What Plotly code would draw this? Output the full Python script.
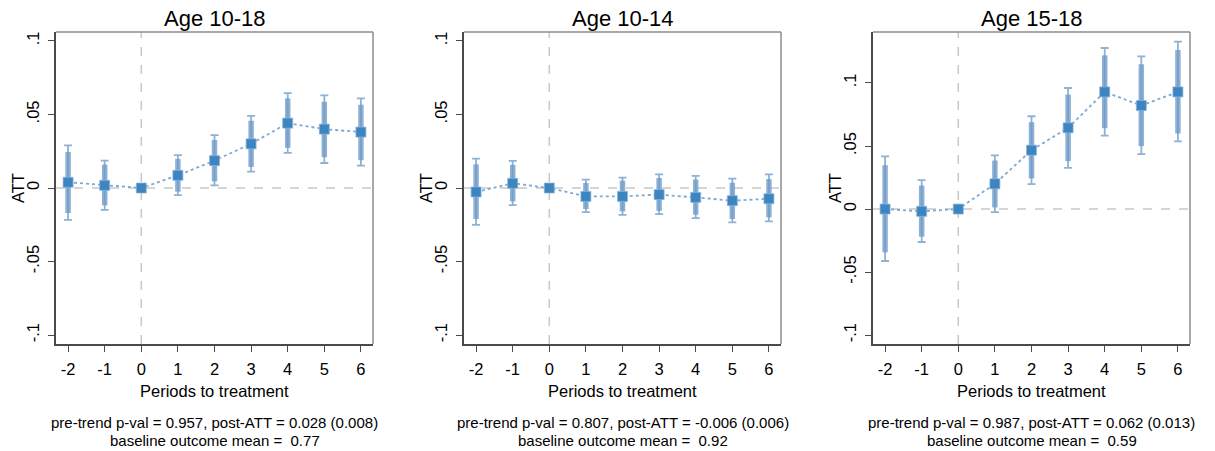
import plotly.graph_objects as go

W, H = 1215, 451
periods = [-2, -1, 0, 1, 2, 3, 4, 5, 6]

titles = ["Age 10-18", "Age 10-14", "Age 15-18"]

att_1018 = [0.0039, 0.0018, 0.0, 0.0086, 0.0186, 0.0300, 0.0441, 0.0400, 0.0380]
hi95_1018 = [0.0290, 0.0186, 0.0, 0.0223, 0.0359, 0.0490, 0.0645, 0.0630, 0.0609]
lo95_1018 = [-0.0216, -0.0148, 0.0, -0.0048, 0.0018, 0.0111, 0.0239, 0.0170, 0.0152]
hi90_1018 = [0.0245, 0.0159, 0.0, 0.0198, 0.0327, 0.0457, 0.0609, 0.0586, 0.0566]
lo90_1018 = [-0.0170, -0.0118, 0.0, -0.0025, 0.0045, 0.0143, 0.0273, 0.0209, 0.0189]

att_1014 = [-0.0027, 0.0032, 0.0, -0.0057, -0.0057, -0.0045, -0.0064, -0.0086, -0.0073]
hi95_1014 = [0.0200, 0.0184, 0.0, 0.0057, 0.0070, 0.0093, 0.0082, 0.0064, 0.0093]
lo95_1014 = [-0.0250, -0.0116, 0.0, -0.0164, -0.0182, -0.0177, -0.0205, -0.0234, -0.0227]
hi90_1014 = [0.0161, 0.0157, 0.0, 0.0034, 0.0050, 0.0068, 0.0057, 0.0036, 0.0061]
lo90_1014 = [-0.0211, -0.0091, 0.0, -0.0143, -0.0159, -0.0155, -0.0182, -0.0211, -0.0200]

att_1518 = [0.0000, -0.0018, 0.0, 0.0200, 0.0467, 0.0644, 0.0929, 0.0821, 0.0929]
hi95_1518 = [0.0417, 0.0230, 0.0, 0.0425, 0.0736, 0.0960, 0.1277, 0.1211, 0.1327]
lo95_1518 = [-0.0412, -0.0261, 0.0, -0.0024, 0.0198, 0.0327, 0.0583, 0.0435, 0.0536]
hi90_1518 = [0.0348, 0.0187, 0.0, 0.0385, 0.0689, 0.0908, 0.1219, 0.1148, 0.1261]
lo90_1518 = [-0.0343, -0.0219, 0.0, 0.0013, 0.0243, 0.0380, 0.0641, 0.0499, 0.0599]

notes_line1 = [
    "pre-trend p-val = 0.957, post-ATT = 0.028 (0.008)",
    "pre-trend p-val = 0.807, post-ATT = -0.006 (0.006)",
    "pre-trend p-val = 0.987, post-ATT = 0.062 (0.013)",
]
notes_line2 = [
    "baseline outcome mean =  0.77",
    "baseline outcome mean =  0.92",
    "baseline outcome mean =  0.59",
]

ytick_vals = [-0.1, -0.05, 0, 0.05, 0.1]
ytick_text = ["-.1", "-.05", "0", ".05", ".1"]
y_ranges = [[-0.106, 0.106], [-0.106, 0.106], [-0.107, 0.1404]]

panels = [
    (att_1018, hi95_1018, lo95_1018, hi90_1018, lo90_1018),
    (att_1014, hi95_1014, lo95_1014, hi90_1014, lo90_1014),
    (att_1518, hi95_1518, lo95_1518, hi90_1518, lo90_1518),
]

# pixel frames of plot areas
frames_px = [(56, 373), (464, 781), (873, 1190)]
top_px, bot_px = 32, 344

FONT = "Liberation Sans, Arial, sans-serif"
MARK = "#3d85c0"
BAR = "rgba(110,155,200,0.78)"
LINE = "#7fa8d2"
REF = "#c8c8c8"
AX = "#4a4a4a"

fig = go.Figure()
layout = dict(
    width=W, height=H,
    margin=dict(l=0, r=0, t=0, b=0),
    paper_bgcolor="white", plot_bgcolor="white",
    showlegend=False,
    font=dict(family=FONT, color="black"),
)
shapes = []
annotations = []

def ppx(y):
    return 1 - y / H

for i, (att, hi95, lo95, hi90, lo90) in enumerate(panels):
    n = i + 1
    xa = "x" if n == 1 else f"x{n}"
    ya = "y" if n == 1 else f"y{n}"
    xkey = "xaxis" if n == 1 else f"xaxis{n}"
    ykey = "yaxis" if n == 1 else f"yaxis{n}"
    x0, x1 = frames_px[i]
    dom_x = [x0 / W, x1 / W]
    dom_y = [ppx(bot_px), ppx(top_px)]

    # outer CI with caps
    fig.add_trace(go.Scatter(
        x=periods, y=att, mode="markers", marker=dict(size=1, opacity=0),
        error_y=dict(type="data", symmetric=False,
                     array=[h - a for h, a in zip(hi95, att)],
                     arrayminus=[a - l for a, l in zip(att, lo95)],
                     color=BAR, thickness=1.8, width=4),
        xaxis=xa, yaxis=ya, hoverinfo="skip"))
    # inner CI thick bar
    fig.add_trace(go.Scatter(
        x=periods, y=att, mode="markers", marker=dict(size=1, opacity=0),
        error_y=dict(type="data", symmetric=False,
                     array=[h - a for h, a in zip(hi90, att)],
                     arrayminus=[a - l for a, l in zip(att, lo90)],
                     color=BAR, thickness=5.5, width=0),
        xaxis=xa, yaxis=ya, hoverinfo="skip"))
    # connecting dotted line + square markers
    fig.add_trace(go.Scatter(
        x=periods, y=att, mode="lines+markers",
        line=dict(color=LINE, width=1.8, dash="dot"),
        marker=dict(symbol="square", size=10, color=MARK,
                    line=dict(color="rgba(140,180,220,0.9)", width=0.8)),
        xaxis=xa, yaxis=ya))

    layout[xkey] = dict(
        domain=dom_x, anchor=ya, range=[-2.33, 6.33],
        tickmode="array", tickvals=periods, ticktext=[str(p) for p in periods],
        ticks="outside", ticklen=6, tickwidth=1.3, tickcolor=AX,
        showline=True, linecolor=AX, linewidth=1.8, mirror=False,
        showgrid=False, zeroline=False,
        tickfont=dict(family=FONT, size=16.5, color="black"),
        ticklabelstandoff=3,
    )
    layout[ykey] = dict(
        domain=dom_y, anchor=xa, range=y_ranges[i],
        tickmode="array", tickvals=ytick_vals, ticktext=ytick_text,
        tickangle=-90,
        ticks="outside", ticklen=6, tickwidth=1.3, tickcolor=AX,
        showline=True, linecolor=AX, linewidth=1.8, mirror=False,
        showgrid=False, zeroline=False,
        tickfont=dict(family=FONT, size=16.5, color="black"),
        ticklabelstandoff=3,
    )

    # light box (top/right)
    shapes.append(dict(type="line", xref="paper", yref="paper",
                       x0=dom_x[0], x1=dom_x[1], y0=dom_y[1], y1=dom_y[1],
                       line=dict(color="#8c8c8c", width=1.5), layer="above"))
    shapes.append(dict(type="line", xref="paper", yref="paper",
                       x0=dom_x[1], x1=dom_x[1], y0=dom_y[0], y1=dom_y[1],
                       line=dict(color="#8c8c8c", width=1.5), layer="above"))
    # reference lines
    shapes.append(dict(type="line", xref=f"{xa} domain", yref=ya,
                       x0=0, x1=1, y0=0, y1=0,
                       line=dict(color=REF, width=1.5, dash="dash"), layer="below"))
    shapes.append(dict(type="line", xref=xa, yref=f"{ya} domain",
                       x0=0, x1=0, y0=0, y1=1,
                       line=dict(color=REF, width=1.5, dash="dash"), layer="below"))

    cx = (dom_x[0] + dom_x[1]) / 2
    annotations.append(dict(text=titles[i], xref="paper", yref="paper",
                            x=cx, y=ppx(18), xanchor="center", yanchor="middle",
                            showarrow=False, font=dict(family=FONT, size=22, color="black")))
    annotations.append(dict(text="Periods to treatment", xref="paper", yref="paper",
                            x=cx, y=ppx(391), xanchor="center", yanchor="middle",
                            showarrow=False, font=dict(family=FONT, size=16.5, color="black")))
    annotations.append(dict(text="ATT", xref="paper", yref="paper",
                            x=(x0 - 38) / W, y=(dom_y[0] + dom_y[1]) / 2,
                            xanchor="center", yanchor="middle", textangle=-90,
                            showarrow=False, font=dict(family=FONT, size=16.5, color="black")))
    annotations.append(dict(text=notes_line1[i], xref="paper", yref="paper",
                            x=cx, y=ppx(422), xanchor="center", yanchor="middle",
                            showarrow=False, font=dict(family=FONT, size=15, color="black")))
    annotations.append(dict(text=notes_line2[i], xref="paper", yref="paper",
                            x=cx, y=ppx(440), xanchor="center", yanchor="middle",
                            showarrow=False, font=dict(family=FONT, size=15, color="black")))

layout["shapes"] = shapes
layout["annotations"] = annotations
fig.update_layout(**layout)
fig.write_html("out.html")
